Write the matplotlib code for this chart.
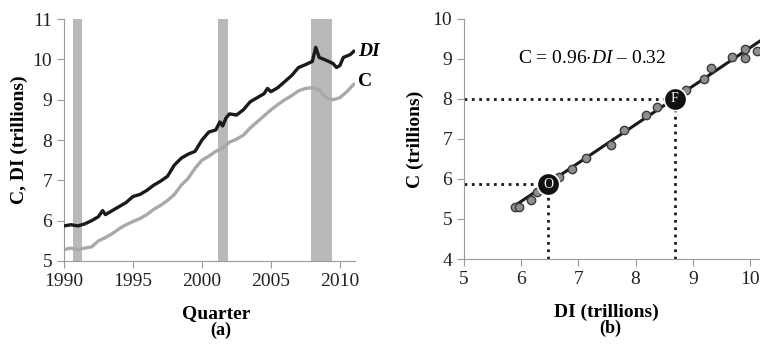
import matplotlib.pyplot as plt

plt.rcParams['font.family'] = ['Liberation Serif', 'DejaVu Serif']
plt.rcParams['mathtext.fontset'] = 'custom'
plt.rcParams['mathtext.rm'] = 'Liberation Serif'
plt.rcParams['mathtext.it'] = 'Liberation Serif:italic'

# panel (a): disposable income and consumption over time (trillions)
di_t = [1990.0, 1990.5, 1991.0, 1991.5, 1992.0, 1992.5, 1992.8, 1993.0, 1993.5, 1994.0,
        1994.5, 1995.0, 1995.5, 1996.0, 1996.5, 1997.0, 1997.5, 1998.0, 1998.5, 1999.0,
        1999.5, 2000.0, 2000.5, 2001.0, 2001.3, 2001.5, 2001.75, 2002.0, 2002.5, 2003.0,
        2003.5, 2004.0, 2004.5, 2004.75, 2005.0, 2005.5, 2006.0, 2006.5, 2007.0, 2007.5,
        2008.0, 2008.25, 2008.5, 2009.0, 2009.5, 2009.75, 2010.0, 2010.25, 2010.75, 2011.0]
di = [5.87, 5.9, 5.87, 5.92, 6.0, 6.1, 6.25, 6.15, 6.25, 6.35,
      6.45, 6.6, 6.65, 6.75, 6.88, 6.98, 7.1, 7.38, 7.55, 7.65,
      7.72, 8.0, 8.2, 8.25, 8.45, 8.35, 8.55, 8.65, 8.62, 8.75,
      8.95, 9.05, 9.15, 9.28, 9.2, 9.3, 9.45, 9.6, 9.8, 9.87,
      9.95, 10.3, 10.05, 9.98, 9.9, 9.8, 9.85, 10.05, 10.12, 10.2]

c_t = [1990.0, 1990.5, 1991.0, 1991.5, 1992.0, 1992.5, 1993.0, 1993.5, 1994.0, 1994.5,
       1995.0, 1995.5, 1996.0, 1996.5, 1997.0, 1997.5, 1998.0, 1998.5, 1999.0, 1999.5,
       2000.0, 2000.5, 2001.0, 2001.5, 2002.0, 2002.5, 2003.0, 2003.5, 2004.0, 2004.5,
       2005.0, 2005.5, 2006.0, 2006.5, 2007.0, 2007.5, 2008.0, 2008.5, 2009.0, 2009.5,
       2010.0, 2010.5, 2011.0]
c = [5.28, 5.32, 5.28, 5.32, 5.35, 5.5, 5.58, 5.68, 5.8, 5.9,
     5.98, 6.05, 6.15, 6.28, 6.38, 6.5, 6.65, 6.88, 7.05, 7.3,
     7.5, 7.6, 7.72, 7.8, 7.95, 8.02, 8.12, 8.3, 8.45, 8.6,
     8.75, 8.88, 9.0, 9.1, 9.22, 9.28, 9.3, 9.25, 9.05, 9.0,
     9.05, 9.2, 9.38]

recessions = [(1990.65, 1991.3), (2001.17, 2001.9), (2007.9, 2009.4)]

# panel (b): C against DI
sc_di = [5.89, 5.96, 6.18, 6.27, 6.66, 6.89, 7.14, 7.57, 7.80, 8.18,
         8.38, 8.88, 9.19, 9.32, 9.69, 9.92, 9.92, 10.12]
sc_c = [5.3, 5.3, 5.48, 5.68, 6.05, 6.26, 6.52, 6.84, 7.22, 7.59,
        7.8, 8.23, 8.5, 8.78, 9.05, 9.26, 9.03, 9.2]
slope, intercept = 0.96, -0.32
pt_labels = ['O', 'F']
pt_di = [6.47, 8.68]
pt_c = [5.87, 8.0]

grey = '#9a9a9a'
fs = 14
fig = plt.figure(figsize=(7.6, 3.46), dpi=100)

ax1 = fig.add_axes([0.0842, 0.2457, 0.383, 0.699])
for a, b in recessions:
    ax1.axvspan(a, b, color='#b9b9bb', lw=0, zorder=0)
ax1.plot(c_t, c, color='#a9a9a9', lw=2.4, zorder=2)
ax1.plot(di_t, di, color='#1a1a1a', lw=2.4, zorder=3)
ax1.set_xlim(1990, 2011.1)
ax1.set_ylim(5, 11)
ax1.set_xticks([1990, 1995, 2000, 2005, 2010])
ax1.set_yticks(range(5, 12))
ax1.text(2011.3, di[-1], 'DI', fontsize=fs, fontweight='bold', style='italic',
         va='center', ha='left', clip_on=False)
ax1.text(2011.3, 9.45, 'C', fontsize=fs, fontweight='bold', va='center', ha='left',
         clip_on=False)
ax1.set_ylabel('C, DI (trillions)', fontsize=fs, fontweight='bold', labelpad=3)

ax2 = fig.add_axes([0.6105, 0.2514, 0.414, 0.694])
xs = [5.85, 10.5]
ax2.plot(xs, [slope * x + intercept for x in xs], color='#1a1a1a', lw=2.2, zorder=2)
ax2.scatter(sc_di, sc_c, s=36, facecolor='#8e8e8e', edgecolor='#3a3a3a', lw=1, zorder=3)
for lab, x, y in zip(pt_labels, pt_di, pt_c):
    ax2.plot([5, x], [y, y], color='#1a1a1a', ls=':', lw=2, zorder=1)
    ax2.plot([x, x], [4, y], color='#1a1a1a', ls=':', lw=2, zorder=1)
    ax2.scatter([x], [y], s=260, facecolor='#111111', edgecolor='white', lw=1.2, zorder=4)
    ax2.text(x, y, lab, color='white', fontsize=10, ha='center', va='center', zorder=5)
ax2.text(5.95, 9.0, r'C = 0.96$\cdot$$\mathit{DI}$ – 0.32', fontsize=fs, va='center')
ax2.set_xlim(5, 10.5)
ax2.set_ylim(4, 10)
ax2.set_xticks(range(5, 11))
ax2.set_yticks(range(4, 11))
ax2.set_ylabel('C (trillions)', fontsize=fs, fontweight='bold', labelpad=6)

for ax in (ax1, ax2):
    for s in ('top', 'right'):
        ax.spines[s].set_visible(False)
    for s in ('left', 'bottom'):
        ax.spines[s].set_color(grey)
    ax.tick_params(colors=grey, labelcolor='#222222', labelsize=fs, length=5)

fig.text(0.285, 0.095, 'Quarter', fontsize=fs, fontweight='bold', ha='center', va='center')
fig.text(0.29, 0.046, '(a)', fontsize=13, fontweight='bold', ha='center', va='center')
fig.text(0.798, 0.098, 'DI (trillions)', fontsize=fs, fontweight='bold', ha='center', va='center')
fig.text(0.803, 0.052, '(b)', fontsize=13, fontweight='bold', ha='center', va='center')

fig.savefig('out.png', dpi=100)
